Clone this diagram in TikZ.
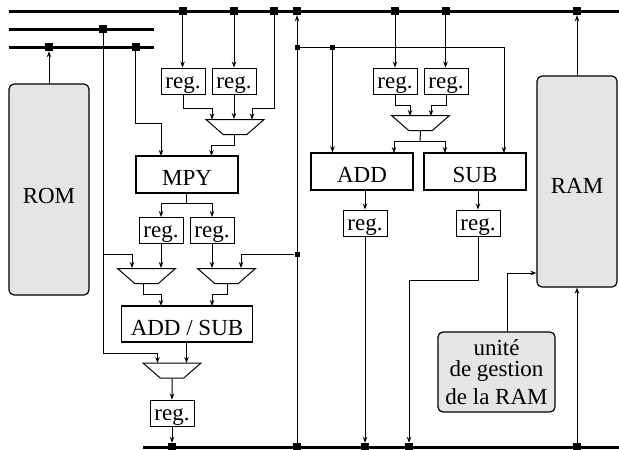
\documentclass[tikz,border=0pt]{standalone}
\usepackage{fontspec}
\setmainfont{Liberation Serif}
\usetikzlibrary{arrows.meta,shapes.geometric}
\definecolor{panel}{gray}{0.9}
\newcommand{\muxbody}{\phantom{\rule{1pt}{1pt}}}
\tikzset{
  wire/.style={line width=1pt,black},
  arr/.style={wire,-{Stealth[length=6pt,width=4.5pt]}},
  bus/.style={line width=3pt,black},
  tap/.style={fill=black,draw=none,minimum size=8pt,inner sep=0pt},
  smalltap/.style={fill=black,draw=none,minimum size=5pt,inner sep=0pt},
  box/.style={draw=black,line width=0.9pt,fill=white,inner sep=0pt,font=\fontsize{23}{26}\selectfont},
  regbox/.style={box,minimum width=44pt,text height=20pt,text depth=6pt},
  unitbox/.style={box,line width=1.4pt,minimum width=102pt,text height=29pt,text depth=8pt},
  mem/.style={draw=black,line width=1.2pt,fill=panel,rounded corners=5pt,inner sep=0pt,font=\fontsize{23}{26}\selectfont},
  mux/.style={draw=black,line width=1pt,fill=white,trapezium,shape border rotate=180,
    trapezium stretches=true,trapezium left angle=54,trapezium right angle=54,
    minimum width=58pt,minimum height=15pt,inner sep=0pt},
}
\begin{document}
\begin{tikzpicture}[x=1pt,y=-1pt]
\useasboundingbox (0,0) rectangle (619,450);
% bus ends
\coordinate (tl) at (9,11); \coordinate (tr) at (619,11);
\coordinate (al) at (9,29); \coordinate (ar) at (154,29);
\coordinate (bl) at (9,47); \coordinate (br) at (154,47);
\coordinate (sl) at (143,447); \coordinate (sr) at (619,447);
\draw[bus] (tl)--(tr); \draw[bus] (al)--(ar); \draw[bus] (bl)--(br); \draw[bus] (sl)--(sr);
% taps
\node[tap] (t1) at (182.5,11) {}; \node[tap] (t2) at (234,11) {}; \node[tap] (t3) at (274,11) {};
\node[tap] (t4) at (297,11) {}; \node[tap] (t5) at (395,11) {}; \node[tap] (t6) at (445.5,11) {};
\node[tap] (t7) at (577,11) {};
\node[tap] (a1) at (103,29) {};
\node[tap] (b1) at (49,47) {}; \node[tap] (b2) at (135.5,47) {};
\node[tap] (s1) at (172,447) {}; \node[tap] (s2) at (297,447) {}; \node[tap] (s3) at (365,447) {};
\node[tap] (s4) at (409,447) {}; \node[tap] (s5) at (577,447) {};
\node[smalltap] (j1) at (297,47) {}; \node[smalltap] (j2) at (332.5,47) {};
\node[smalltap] (j3) at (297,254) {};
% memories
\node[mem,minimum width=80pt,text height=119pt,text depth=92pt] (rom) at (49,189.5) {ROM};
\node[mem,minimum width=80pt,text height=117pt,text depth=94pt] (ram) at (577,181.5) {RAM};
\node[mem,minimum width=117pt,minimum height=80pt,align=center,font=\fontsize{23}{21}\selectfont] (gest) at (496.5,372) {unité\\de gestion\\[7.5pt]de la RAM};
% registers
\node[regbox] (r1) at (183,81) {reg.}; \node[regbox] (r2) at (234,81) {reg.};
\node[regbox] (r3) at (161,230) {reg.}; \node[regbox] (r4) at (212,230) {reg.};
\node[regbox] (r5) at (172,413) {reg.};
\node[regbox] (r6) at (395,81) {reg.}; \node[regbox] (r7) at (446,81) {reg.};
\node[regbox] (r8) at (365,223) {reg.}; \node[regbox] (r9) at (478,223) {reg.};
% units
\node[unitbox] (mpy) at (187,174.5) {MPY};
\node[unitbox,minimum width=131.5pt,text depth=7pt] (as) at (187,324) {ADD / SUB};
\node[unitbox] (add) at (362,171.5) {ADD};
\node[unitbox] (sub) at (475,171.5) {SUB};
% multiplexers
\node[mux] (m1) at (235,127) {\muxbody};
\node[mux] (m2) at (420.5,123) {\muxbody};
\node[mux] (m3) at (146.5,276) {\muxbody};
\node[mux] (m4) at (226.5,276) {\muxbody};
\node[mux] (m5) at (172,370.5) {\muxbody};
% connectors
\coordinate (v1) at (103,254);
\draw[arr] (t1) -- (t1 |- r1.north);
\draw[arr] (t2) -- (t2 |- r2.north);
\draw[arr] (t3) |- (252,108) -- (252,119.5);
\draw[arr] (r1.south) |- (212,108) -- (212,119.5);
\draw[arr] (r2.south) -- (r2 |- m1.north);
\draw[arr] (234,134.5) |- (211.5,145) -- (211.5,156);
\draw[arr] (b2) |- (161,123) -- (161,156);
\draw[wire] (186.5,193) -- (186.5,203);
\draw[arr] (186.5,203) -| (161,217);
\draw[arr] (186.5,203) -| (212,217);
\draw[arr] (r3.south) -- (r3 |- m3.north);
\draw[arr] (r4.south) -- (r4 |- m4.north);
\draw[arr] (a1) |- (157.5,353) -- (157.5,363);
\draw[arr] (v1) -| (132,268);
\draw[arr] (j3) -| (241,268);
\draw[arr] (143,284) |- (161,294) -- (161,306);
\draw[arr] (227,284) |- (212,294) -- (212,306);
\draw[arr] (186.5,342) -- (186.5,363);
\draw[arr] (m5.south) -- (r5.north);
\draw[arr] (r5.south) -- (s1);
\draw[arr] (s2) -- (t4);
\draw[wire] (j1) -- (j2);
\draw[arr] (j2) -- (j2 |- add.north);
\draw[arr] (j2) -| (504,153);
\draw[arr] (t5) -- (t5 |- r6.north);
\draw[arr] (t6) -- (t6 |- r7.north);
\draw[arr] (r6.south) |- (410,105) -- (410,116);
\draw[arr] (r7.south) |- (431,105) -- (431,116);
\draw[wire] (m2.south) -- (420,141);
\draw[arr] (420,141) -| (394,153);
\draw[arr] (420,141) -| (445,153);
\draw[arr] (365,190) -- (r8.north);
\draw[arr] (478,190) -- (r9.north);
\draw[arr] (r8.south) -- (s3);
\draw[arr] (r9.south) |- (409,280) -- (s4);
\draw[arr] (507,332) |- (ram.west |- 0,273);
\draw[arr] (s5) -- (ram.south);
\draw[arr] (ram.north) -- (t7);
\draw[arr] (rom.north) -- (b1);
\end{tikzpicture}
\end{document}
